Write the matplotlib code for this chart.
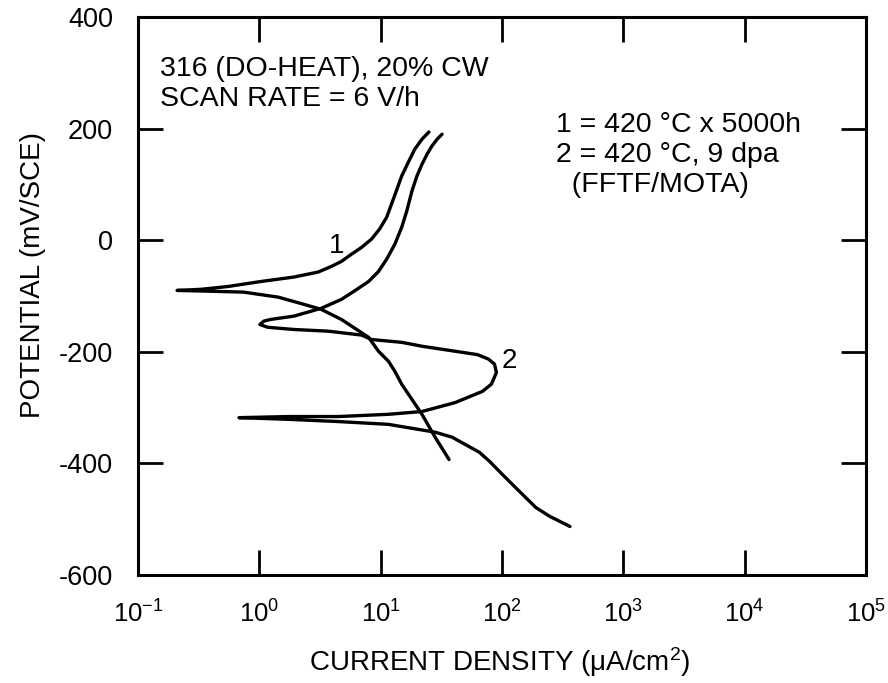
import matplotlib
matplotlib.use("Agg")
import matplotlib.pyplot as plt
from matplotlib.ticker import LogLocator, NullLocator

plt.rcParams['font.family'] = ['Liberation Sans', 'DejaVu Sans']
plt.rcParams['mathtext.fontset'] = 'custom'
plt.rcParams['mathtext.rm'] = 'Liberation Sans'
plt.rcParams['mathtext.it'] = 'Liberation Sans:italic'
plt.rcParams['mathtext.default'] = 'regular'
plt.rcParams['axes.unicode_minus'] = False

# curve 1: 420 C x 5000h, cathodic end -> nose -> anodic end
i1 = [36.6, 28.1, 21.9, 14.9, 13.1, 11.6, 9.6, 7.95, 4.75, 3.24, 2.34, 1.43,
      0.74, 0.33, 0.21,
      0.33, 0.55, 1.03, 1.93, 3.06, 3.92, 4.75, 5.75, 6.95, 8.41, 9.8, 11.2,
      12.3, 13.6, 14.9, 17.1, 19.1, 21.9, 25.0]
e1 = [-393, -353, -312, -258, -235, -217, -199, -174, -142, -124, -115, -102,
      -93, -91, -90,
      -88, -83, -74, -66, -57, -47, -38, -25, -13, 2, 20, 41,
      65, 91, 115, 142, 163, 181, 194]

# curve 2: 420 C, 9 dpa (FFTF/MOTA)
i2 = [363, 248, 190, 129, 101, 78.7, 65, 53.7, 38.8, 28.1, 14.9, 11.6, 4.48,
      1.73, 0.68,
      1.73, 4.48, 11.6, 21.9, 41.1, 68.9, 81.8, 90, 86.7, 77.3, 62.6, 41.1,
      21.9, 14.9, 8.41, 6.95, 3.70, 1.93, 1.17, 1.01, 1.09, 1.24, 1.93, 3.24,
      4.75, 6.08, 7.95, 9.6, 11.2, 13.1, 14.9, 16.4, 18.1, 19.9, 21.9, 24.1,
      26.5, 29.2, 32.1]
e2 = [-513, -495, -479, -443, -420, -396, -380, -370, -353, -344, -334, -330,
      -325, -321, -318,
      -316, -316, -312, -307, -291, -271, -258, -237, -222, -213, -205, -199,
      -190, -183, -178, -170, -163, -160, -156, -151, -145, -142, -136, -122,
      -106, -91, -74, -56, -34, -7, 23, 52, 88, 115, 136, 154,
      169, 181, 190]

curve_labels = ['1', '2']
label_pos = [(4.3, -11), (115, -217)]

yticks = [400, 200, 0, -200, -400, -600]

fig = plt.figure(figsize=(8.88, 6.83), dpi=100)
ax = fig.add_axes([0.1554, 0.1581, 0.8198, 0.8170])

ax.plot(i1, e1, color='black', lw=2.4, solid_joinstyle='round',
        solid_capstyle='round')
ax.plot(i2, e2, color='black', lw=2.4, solid_joinstyle='round',
        solid_capstyle='round')

for lab, (x, y) in zip(curve_labels, label_pos):
    ax.text(x, y, lab, fontsize=20, ha='center', va='center')

ax.set_xscale('log')
ax.set_xlim(1e-1, 1e5)
ax.set_ylim(-600, 400)
ax.xaxis.set_major_locator(LogLocator(base=10, numticks=10))
ax.xaxis.set_minor_locator(NullLocator())
ax.set_yticks(yticks)

for s in ax.spines.values():
    s.set_linewidth(2.2)
ax.tick_params(which='major', direction='in', length=18, width=2.0,
               top=True, right=True, labelsize=19.5)
ax.tick_params(axis='x', pad=18, labelsize=18.5)
ax.tick_params(axis='y', pad=18)

ax.set_xlabel('CURRENT DENSITY (μA/cm$^2$)', fontsize=20)
ax.xaxis.set_label_coords(0.497, -0.125)
ax.set_ylabel('POTENTIAL (mV/SCE)', fontsize=20)
ax.yaxis.set_label_coords(-0.126, 0.537)

ax.text(0.030, 0.93, '316 (DO-HEAT), 20% CW\nSCAN RATE = 6 V/h',
        transform=ax.transAxes, fontsize=20.5, va='top', ha='left',
        linespacing=1.2)
ax.text(0.574, 0.83, '1 = 420 °C x 5000h\n2 = 420 °C, 9 dpa\n  (FFTF/MOTA)',
        transform=ax.transAxes, fontsize=20.5, va='top', ha='left',
        linespacing=1.2)

fig.savefig('out.png', dpi=100)
